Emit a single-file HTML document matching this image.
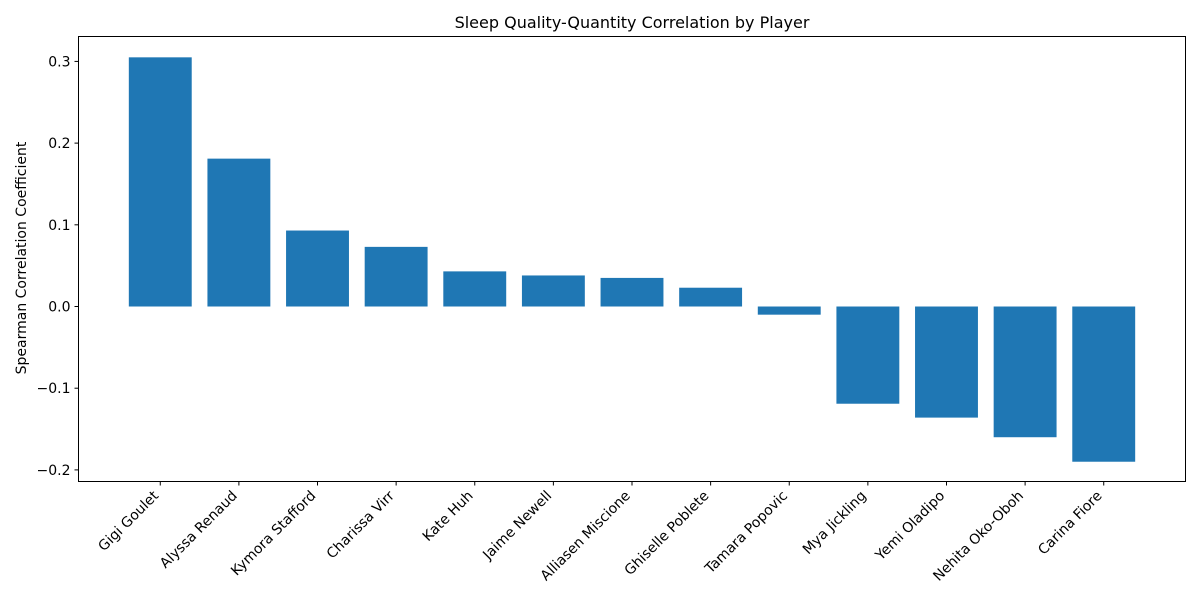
<!DOCTYPE html>
<html><head><meta charset="utf-8"><style>
body{margin:0;background:#fff;}
svg text{font-family:"DejaVu Sans","Liberation Sans",sans-serif;fill:#000;}
</style></head><body>
<svg id="chart" width="1200" height="600" xmlns="http://www.w3.org/2000/svg">
<rect width="1200" height="600" fill="#fff"/>
<text x="632" y="28" font-size="16" text-anchor="middle">Sleep Quality-Quantity Correlation by Player</text>
<text transform="translate(26,258) rotate(-90)" font-size="14" text-anchor="middle">Spearman Correlation Coefficient</text>
<g id="bars"></g><g id="ticks"></g>
<rect x="78.5" y="36.5" width="1107" height="445" fill="none" stroke="#000" stroke-width="1"/>
</svg>
<script>
const players=["Gigi Goulet","Alyssa Renaud","Kymora Stafford","Charissa Virr","Kate Huh","Jaime Newell","Alliasen Miscione","Ghiselle Poblete","Tamara Popovic","Mya Jickling","Yemi Oladipo","Nehita Oko-Oboh","Carina Fiore"];
const correlations=[0.305,0.181,0.093,0.073,0.043,0.038,0.035,0.023,-0.010,-0.119,-0.136,-0.160,-0.190];
const yTicks=[-0.2,-0.1,0.0,0.1,0.2,0.3];
const yTickLabels=["\u22120.2","\u22120.1","0.0","0.1","0.2","0.3"];
const NS="http://www.w3.org/2000/svg";
const L=78.5,R=1185.5,T=36.5,B=481.5;
const ymin=-0.2142,ymax=0.3305;
const xmin=-1.04,xmax=players.length-1+1.04;
const yS=v=>B-(v-ymin)/(ymax-ymin)*(B-T);
const xS=i=>L+(i-xmin)/(xmax-xmin)*(R-L);
const bw=0.8*(R-L)/(xmax-xmin);
const bars=document.getElementById('bars'),ticks=document.getElementById('ticks');
function mk(t,a,p){const e=document.createElementNS(NS,t);for(const k in a)e.setAttribute(k,a[k]);p.appendChild(e);return e;}
correlations.forEach((v,i)=>{
 const y0=yS(0),y1=yS(v);
 const r=mk('rect',{x:xS(i)-bw/2,y:Math.min(y0,y1),width:bw,height:Math.abs(y1-y0),fill:'#1f77b4'},bars);
 
 
 const x=xS(i);
 const tk=mk('line',{x1:x,x2:x,y1:B,y2:B+4,stroke:'#000'},ticks);
 
 
 const t=mk('text',{transform:`translate(${x-1},${B+15}) rotate(-45)`,'font-size':'14','text-anchor':'end'},ticks);
 t.textContent=players[i];
 
 
});
yTicks.forEach((v,i)=>{
 const y=yS(v);
 const tk=mk('line',{x1:L-4,x2:L,y1:y,y2:y,stroke:'#000'},ticks);
 
 
 const t=mk('text',{x:L-8,y:y+5,'font-size':'14','text-anchor':'end'},ticks);
 t.textContent=yTickLabels[i];
 
 
});
</script>
</body></html>
